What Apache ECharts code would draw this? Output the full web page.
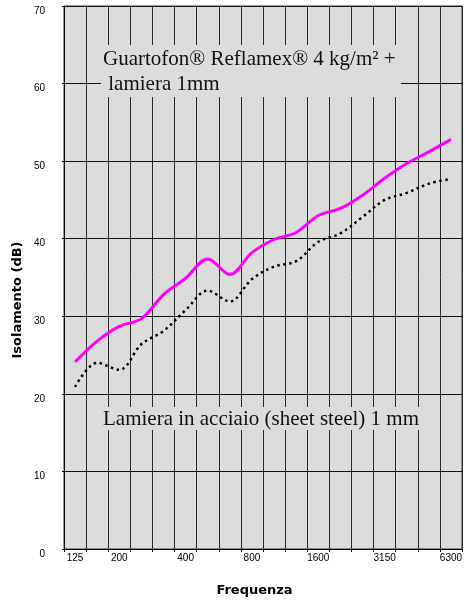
<!DOCTYPE html>
<html><head><meta charset="utf-8">
<script src="https://cdn.jsdelivr.net/npm/echarts@6/dist/echarts.min.js"></script>
<style>html,body{margin:0;padding:0;background:#fff}#c{width:465px;height:602px}</style>
</head><body><div id="c"></div>
<script>
var bands = ['125','160','200','250','315','400','500','630','800','1000','1250','1600','2000','2500','3150','4000','5000','6300'];
var shownLabels = ['125','200','400','800','1600','3150','6300'];
var reflamex = [24.1, 26.8, 28.7, 29.7, 32.8, 34.9, 37.4, 35.4, 38.2, 39.9, 40.8, 43.0, 43.9, 45.6, 47.8, 49.7, 51.2, 52.8];
var steel = [20.9, 24.0, 23.1, 26.4, 28.1, 30.8, 33.3, 31.9, 34.8, 36.4, 37.1, 39.6, 40.7, 42.8, 45.0, 45.9, 47.1, 47.7];
var yTicks = {min: 0, max: 70, step: 10};
var label1 = 'Guartofon® Reflamex® 4 kg/m² +\n lamiera 1mm';
var label2 = 'Lamiera in acciaio (sheet steel) 1 mm';
var xName = 'Frequenza';
var yName = 'Isolamento (dB)';

var bg = '#dcdcdc';
var chart = echarts.init(document.getElementById('c'), null, {renderer: 'canvas'});
chart.setOption({
  animation: false,
  grid: {left: 64, top: 6, width: 402, height: 543, show: true, backgroundColor: bg, borderColor: '#333', borderWidth: 1},
  xAxis: {
    type: 'category', data: bands, boundaryGap: true,
    axisLine: {lineStyle: {color: '#000', width: 1}},
    axisTick: {show: true, interval: 0, length: 3, lineStyle: {color: '#000'}},
    splitLine: {show: true, interval: 0, lineStyle: {color: '#2a2a2a', width: 1}},
    axisLabel: {
      interval: function (i, v) { return shownLabels.indexOf(v) >= 0; },
      margin: 4, color: '#000', fontSize: 10, fontFamily: 'Liberation Sans'
    }
  },
  yAxis: {
    type: 'value', min: yTicks.min, max: yTicks.max, interval: yTicks.step,
    axisLine: {show: true, lineStyle: {color: '#000'}},
    axisTick: {show: true, length: 2, lineStyle: {color: '#000'}},
    splitLine: {show: true, lineStyle: {color: '#111', width: 1}},
    axisLabel: {margin: 19, color: '#000', fontSize: 10, fontFamily: 'Liberation Sans', verticalAlign: 'top', lineHeight: 10}
  },
  graphic: [
    {type: 'rect', shape: {x: 101, y: 45, width: 300, height: 52}, style: {fill: bg}, z: 100},
    {type: 'text', x: 103, y: 71.5, z: 101, style: {text: label1, font: '21px "Liberation Serif"', fill: '#111', lineHeight: 25, verticalAlign: 'middle', align: 'left'}},
    {type: 'rect', shape: {x: 101, y: 407, width: 324, height: 23}, style: {fill: bg}, z: 100},
    {type: 'text', x: 103, y: 419, z: 101, style: {text: label2, font: '21px "Liberation Serif"', fill: '#111', verticalAlign: 'middle', align: 'left'}},
    {type: 'text', x: 254.5, y: 591, z: 101, style: {text: xName, font: 'bold 13px "DejaVu Sans"', fill: '#000', align: 'center', verticalAlign: 'middle'}},
    {type: 'text', x: 17.5, y: 300, rotation: Math.PI / 2, z: 101, style: {text: yName, font: 'bold 13px "DejaVu Sans"', fill: '#000', align: 'center', verticalAlign: 'middle'}}
  ],
  series: [
    {type: 'line', data: steel, smooth: 0.35, symbol: 'none', z: 5,
     lineStyle: {color: '#000', width: 2.5, type: [2.5, 3.5], cap: 'butt'}},
    {type: 'line', data: reflamex, smooth: 0.35, symbol: 'none', z: 6,
     lineStyle: {color: '#ff00ff', width: 3}}
  ]
});
</script></body></html>
